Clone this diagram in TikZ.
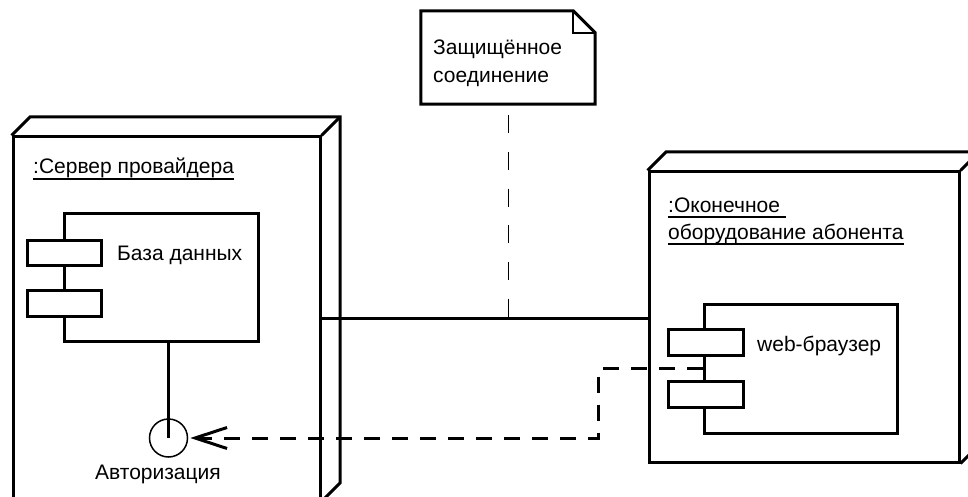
\documentclass[tikz,border=0pt]{standalone}
\usepackage{fontspec}
\setmainfont{Liberation Sans}
\usetikzlibrary{arrows.meta,calc}
\newcommand\ulbox[1]{\setbox0\hbox{#1}\rlap{\vrule width\wd0 height -4pt depth 5.8pt}\box0}
\begin{document}
\begin{tikzpicture}[x=1pt,y=-1pt,
  frame/.style={draw,line width=3pt,line join=miter},
  box/.style={frame,rectangle,inner sep=0pt,fill=white},
  lbl/.style={anchor=base west,inner sep=0pt,font=\fontsize{21}{28}\selectfont}]
\useasboundingbox (0,0) rectangle (968,497);
\fill[white] (0,0) rectangle (968,497);
\clip (0,0) rectangle (968,497);

% server node
\node[box,minimum width=307pt,minimum height=363pt] (srv) at (166.5,318.5) {};
\draw[frame] (srv.north west) -- ++(18.5,-18.5) -- ($(srv.north east)+(18.5,-18.5)$)
  -- ($(srv.south east)+(18.5,-18.5)$) -- (srv.south east);
\draw[frame] (srv.north east) -- ++(18.5,-18.5);

% client node
\node[box,minimum width=310pt,minimum height=290pt] (cli) at (804,317) {};
\draw[frame] (cli.north west) -- ++(18.5,-18.5) -- ($(cli.north east)+(18.5,-18.5)$)
  -- ($(cli.south east)+(18.5,-18.5)$) -- (cli.south east);
\draw[frame] (cli.north east) -- ++(18.5,-18.5);

% database component
\node[box,minimum width=194pt,minimum height=128pt] (db) at (161,277.5) {};
\node[box,minimum width=74pt,minimum height=25pt] (dbp1) at (64.5,252.5) {};
\node[box,minimum width=74pt,minimum height=26pt] (dbp2) at (64.5,303) {};

% browser component
\node[box,minimum width=193pt,minimum height=129pt] (br) at (800.5,368.5) {};
\node[box,minimum width=75pt,minimum height=26pt] (brp1) at (705.5,342) {};
\node[box,minimum width=75pt,minimum height=26pt] (brp2) at (705.5,394) {};

% note
\node[minimum width=174pt,minimum height=93pt,inner sep=0pt] (note) at (508,57.5) {};
\draw[frame,fill=white] (note.south west) -- (note.north west) -- ($(note.north east)+(-22,0)$)
  -- ($(note.north east)+(0,22)$) -- (note.south east) -- cycle;
\draw[line width=1.5pt] ($(note.north east)+(-22,0)$) -- ++(0,22) -- ++(22,0);

% interface
\node[circle,draw,line width=1.5pt,minimum size=38pt,inner sep=0pt,fill=white] (auth) at (168.5,438) {};
\draw[frame] (auth.center |- db.south) -- (auth.center);

% connectors
\draw[frame] (srv.east) -- (srv.east -| cli.west);
\draw[line width=1pt,dash pattern=on 18pt off 18.7pt,dash phase=25.7pt] (note.south) -- (note.south |- srv.east);
\draw[frame,dash pattern=on 16pt off 12pt,shorten >=2pt,
  -{Straight Barb[length=32pt,width=21pt,line width=3pt]}]
  (br.west) -- ++(-104,0) |- (auth.east);

% labels
\node[lbl] (notet1) at (433,55) {Защищённое};
\node[lbl] (notet2) at (433,83) {соединение};
\node[lbl] (srvl) at (33,174) {\ulbox{:Сервер провайдера}};
\node[lbl] (clil1) at (668,212) {\ulbox{:Оконечное\ }};
\node[lbl] (clil2) at (668,239) {\ulbox{оборудование абонента}};
\node[lbl] (dbl) at (117,260) {База данных};
\node[lbl] (brl) at (757,351) {web-браузер};
\node[lbl] (authl) at (95,479) {Авторизация};
\end{tikzpicture}
\end{document}
